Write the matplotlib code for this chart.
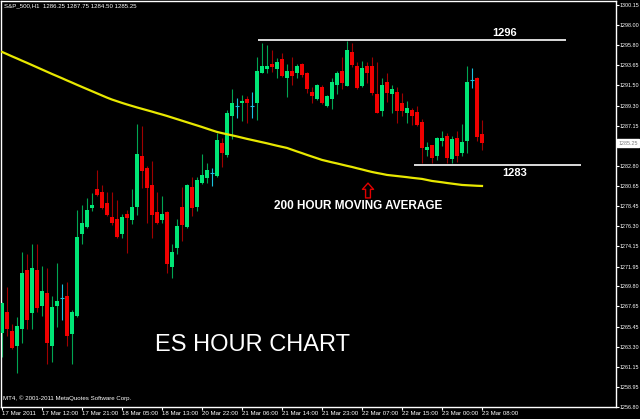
import numpy as np
import matplotlib
matplotlib.use("Agg")
import matplotlib.pyplot as plt

# hourly OHLC, S&P 500 (ES), 17 Mar - 23 Mar 2011
opens = [1264.78, 1267.04, 1264.99, 1263.38, 1265.21, 1271.58, 1266.94, 1271.58, 1267.69, 1269.09,
         1263.38, 1267.69, 1268.55, 1268.77, 1264.67, 1266.61, 1275.46, 1276.21, 1278.26, 1280.31,
         1279.99, 1278.80, 1277.29, 1277.08, 1275.46, 1277.62, 1276.97, 1278.37, 1283.87, 1282.58,
         1280.74, 1277.83, 1276.97, 1277.83, 1271.90, 1273.95, 1278.37, 1276.21, 1280.53, 1278.37,
         1280.96, 1281.50, 1282.04, 1281.71, 1285.27, 1283.98, 1288.19, 1289.27, 1289.59, 1290.02,
         1289.27, 1289.59, 1292.83, 1293.26, 1293.80, 1293.26, 1294.34, 1292.29, 1293.04, 1292.83,
         1293.80, 1292.83, 1290.78, 1290.02, 1291.32, 1289.27, 1290.02, 1291.53, 1293.04, 1291.42,
         1295.09, 1293.58, 1291.42, 1293.58, 1293.58, 1290.56, 1288.73, 1291.85, 1290.56, 1290.78,
         1289.59, 1288.51, 1288.83, 1288.62, 1287.54, 1284.52, 1285.06, 1283.87, 1285.49, 1286.03,
         1283.55, 1285.81, 1284.20, 1285.49, 1292.07, 1292.29, 1286.25]
highs = [1268.10, 1269.74, 1265.75, 1266.51, 1273.52, 1273.30, 1274.38, 1274.38, 1272.01, 1271.79,
         1268.77, 1272.33, 1270.06, 1270.28, 1267.26, 1278.05, 1278.59, 1279.34, 1279.88, 1282.36,
         1280.74, 1279.99, 1279.99, 1279.13, 1277.62, 1278.05, 1280.31, 1287.32, 1287.11, 1282.79,
         1283.33, 1279.99, 1279.56, 1277.90, 1274.38, 1277.08, 1280.53, 1280.80, 1281.61, 1281.61,
         1284.09, 1283.12, 1282.58, 1286.35, 1285.81, 1288.83, 1291.10, 1290.13, 1290.45, 1290.34,
         1290.78, 1294.55, 1296.06, 1295.85, 1295.31, 1294.44, 1294.98, 1293.80, 1294.55, 1293.80,
         1293.90, 1292.90, 1291.32, 1291.60, 1291.53, 1290.45, 1292.29, 1293.04, 1294.55, 1296.28,
         1296.06, 1294.01, 1294.12, 1294.01, 1294.55, 1294.01, 1292.29, 1292.83, 1291.53, 1291.32,
         1290.67, 1289.81, 1289.05, 1289.27, 1287.86, 1285.38, 1285.10, 1285.90, 1286.57, 1286.35,
         1286.03, 1286.57, 1287.32, 1293.58, 1293.36, 1292.35, 1287.75]
lows = [1262.19, 1264.46, 1263.10, 1260.46, 1263.70, 1265.21, 1265.21, 1267.04, 1266.61, 1261.44,
        1261.65, 1265.43, 1266.18, 1263.38, 1261.44, 1266.51, 1274.38, 1276.10, 1277.94, 1279.56,
        1278.20, 1277.40, 1276.43, 1275.03, 1275.03, 1273.41, 1276.54, 1277.51, 1280.42, 1276.64,
        1275.03, 1276.54, 1276.64, 1271.25, 1270.71, 1273.30, 1274.70, 1276.10, 1277.40, 1277.94,
        1280.90, 1280.96, 1280.64, 1281.61, 1282.69, 1283.76, 1285.71, 1287.97, 1287.65, 1287.43,
        1287.97, 1287.76, 1292.80, 1292.83, 1292.93, 1292.29, 1292.39, 1290.24, 1291.53, 1292.29,
        1292.39, 1290.67, 1289.59, 1289.91, 1289.48, 1289.16, 1288.94, 1290.56, 1291.10, 1291.40,
        1293.47, 1291.10, 1291.32, 1291.75, 1290.45, 1288.50, 1288.19, 1289.70, 1288.51, 1287.43,
        1288.19, 1287.43, 1287.22, 1287.11, 1283.12, 1283.87, 1283.12, 1283.44, 1284.95, 1283.12,
        1283.12, 1283.23, 1283.87, 1284.20, 1291.21, 1285.49, 1284.50]
closes = [1268.02, 1265.21, 1263.16, 1265.53, 1271.25, 1266.18, 1271.79, 1267.48, 1269.31, 1263.70,
          1267.58, 1268.23, 1268.55, 1264.46, 1267.04, 1275.13, 1276.64, 1278.05, 1278.59, 1279.67,
          1278.26, 1277.51, 1276.64, 1275.13, 1277.29, 1277.18, 1278.37, 1284.09, 1282.25, 1280.42,
          1277.51, 1276.64, 1277.62, 1272.22, 1273.52, 1276.32, 1276.43, 1280.74, 1278.26, 1281.28,
          1281.82, 1282.36, 1282.04, 1285.60, 1284.20, 1288.51, 1289.59, 1289.27, 1289.81, 1289.59,
          1289.27, 1293.04, 1293.58, 1293.58, 1293.47, 1294.01, 1292.50, 1293.04, 1292.50, 1293.58,
          1292.61, 1291.10, 1290.34, 1291.53, 1289.59, 1290.34, 1291.85, 1292.83, 1291.75, 1295.31,
          1293.69, 1291.21, 1293.36, 1292.83, 1290.67, 1288.51, 1291.53, 1290.67, 1291.10, 1288.73,
          1288.73, 1289.05, 1288.19, 1287.22, 1284.74, 1284.84, 1283.66, 1285.81, 1285.81, 1283.66,
          1285.71, 1283.87, 1285.38, 1291.85, 1292.07, 1285.92, 1285.25]
# 200 hour moving average
ma200 = [1295.10, 1294.86, 1294.62, 1294.39, 1294.15, 1293.92, 1293.68, 1293.44, 1293.20, 1292.96,
         1292.72, 1292.49, 1292.26, 1292.02, 1291.79, 1291.55, 1291.32, 1291.09, 1290.86, 1290.63,
         1290.40, 1290.17, 1289.96, 1289.78, 1289.60, 1289.43, 1289.27, 1289.11, 1288.96, 1288.81,
         1288.66, 1288.50, 1288.35, 1288.19, 1288.02, 1287.85, 1287.68, 1287.51, 1287.34, 1287.17,
         1287.00, 1286.82, 1286.64, 1286.47, 1286.34, 1286.22, 1286.10, 1285.98, 1285.85, 1285.72,
         1285.60, 1285.48, 1285.36, 1285.24, 1285.11, 1284.98, 1284.86, 1284.74, 1284.55, 1284.36,
         1284.18, 1283.99, 1283.81, 1283.63, 1283.45, 1283.32, 1283.19, 1283.07, 1282.94, 1282.81,
         1282.69, 1282.55, 1282.42, 1282.28, 1282.15, 1282.04, 1281.94, 1281.83, 1281.77, 1281.71,
         1281.65, 1281.59, 1281.52, 1281.46, 1281.40, 1281.29, 1281.18, 1281.11, 1281.04, 1280.96,
         1280.89, 1280.82, 1280.75, 1280.72, 1280.69, 1280.66, 1280.64]

date_labels = ["17 Mar 2011", "17 Mar 12:00", "17 Mar 21:00", "18 Mar 05:00", "18 Mar 13:00",
               "20 Mar 22:00", "21 Mar 06:00", "21 Mar 14:00", "21 Mar 23:00", "22 Mar 07:00",
               "22 Mar 15:00", "23 Mar 00:00", "23 Mar 08:00"]
price_ticks = [1256.80, 1258.95, 1261.15, 1263.30, 1265.45, 1267.65, 1269.80, 1271.95, 1274.15,
               1276.30, 1278.45, 1280.65, 1282.80, 1285.00, 1287.15, 1289.30, 1291.50, 1293.65,
               1295.80, 1298.00, 1300.15]
resistance = 1296.39
support = 1282.90
last_price = 1285.25

o = np.array(opens); h = np.array(highs); l = np.array(lows); c = np.array(closes)
x = np.arange(len(o))

fig = plt.figure(figsize=(6.4, 4.19), dpi=100, facecolor="black")
ax = fig.add_axes([1/640, 12/419, 615/640, 406/419], facecolor="black")

up = c > o
dn = c < o
dj = c == o
wick_col = np.where(up, "#00a552", np.where(dn, "#a00000", "#19c3dc"))
body_col = np.where(up, "#00e676", "#f00000")

ax.vlines(x, l, h, colors=wick_col, lw=0.8, zorder=2)
ax.bar(x[~dj], np.abs(c - o)[~dj], bottom=np.minimum(o, c)[~dj], width=0.72,
       color=body_col[~dj], lw=0, zorder=3)
ax.hlines(c[dj], x[dj] - 0.4, x[dj] + 0.4, colors="#19c3dc", lw=0.8, zorder=3)

ax.plot(x, ma200, color="#e8e800", lw=1.6, zorder=4)

# trend lines
ax.hlines(resistance, 51.2, 112.8, colors="white", lw=1.2, zorder=4)
ax.hlines(support, 82.4, 115.8, colors="white", lw=1.2, zorder=4)
ax.text(100.6, resistance + 0.25, "1296", color="white", fontsize=8, fontweight="bold",
        family="Liberation Sans", ha="center", va="bottom")
ax.text(102.6, support - 0.85, "1283", color="white", fontsize=8, fontweight="bold",
        family="Liberation Sans", ha="center", va="center")
ax.text(54.4, 1278.48, "200 HOUR MOVING AVERAGE", color="white", fontsize=8.5,
        fontweight="bold", family="Liberation Sans", ha="left", va="center")
ax.annotate("", xy=(73.2, 1280.95), xytext=(73.2, 1279.35),
            arrowprops=dict(arrowstyle="simple,head_width=0.8,head_length=0.45,tail_width=0.35",
                            fc="black", ec="#e00000", lw=1.0, mutation_scale=10,
                            shrinkA=0, shrinkB=0))
ax.text(30.6, 1263.5, "ES HOUR CHART", color="white", fontsize=17,
        family="Liberation Sans", ha="left", va="center")

ax.set_xlim(-0.2, 122.8)
ax.set_ylim(1256.80, 1300.59)

small = dict(fontsize=4.4, color="white", family="Liberation Sans")
ax.set_xticks(x[::8])
ax.set_xticklabels(date_labels, ha="left", **small)
ax.yaxis.tick_right()
ax.set_yticks(price_ticks)
# 1285.00 sits under the current price box
ax.set_yticklabels(["" if v == 1285.00 else f"{v:.2f}" for v in price_ticks],
                   fontsize=3.9, color="white", family="Liberation Sans")
ax.tick_params(axis="both", colors="white", length=2, width=0.8, pad=0.8, direction="out")
for s in ax.spines.values():
    s.set_color("white")
    s.set_linewidth(1)

# current price marker on the price scale
ax.text(1.004, last_price, f"{last_price:.2f}", transform=ax.get_yaxis_transform(),
        fontsize=3.9, color="#808080", family="Liberation Sans", ha="left", va="center",
        bbox=dict(boxstyle="square,pad=0.25", fc="white", ec="white"), zorder=10, clip_on=False)

fig.text(4/640, 1 - 6/419, "S&P_500,H1  1286.25 1287.75 1284.50 1285.25", color="white",
         fontsize=4.4, family="Liberation Sans", ha="left", va="center")
fig.text(3/640, 1 - 398/419, "MT4, \u00a9 2001-2011 MetaQuotes Software Corp.", color="white",
         fontsize=4.4, family="Liberation Sans", ha="left", va="center")

fig.savefig("out.png", dpi=100, facecolor="black")
